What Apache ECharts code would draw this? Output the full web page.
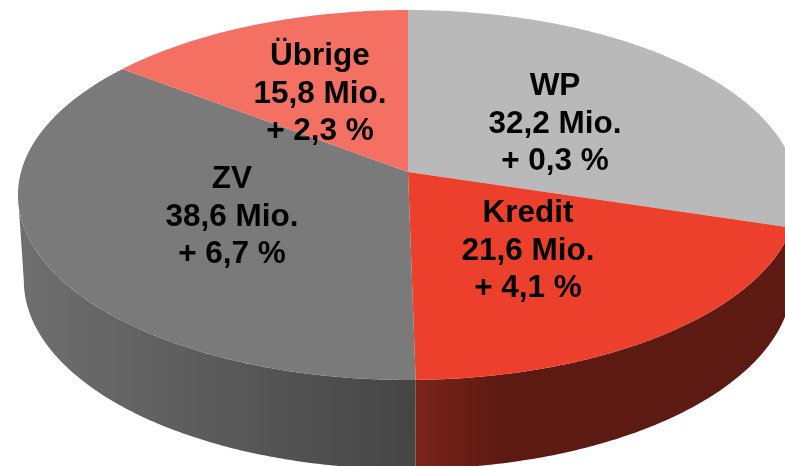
<!DOCTYPE html>
<html>
<head>
<meta charset="utf-8">
<style>html,body{margin:0;padding:0;background:#fff;overflow:hidden}#c{width:785px;height:466px}</style>
<script src="https://cdn.jsdelivr.net/npm/echarts@6/dist/echarts.min.js"></script>
</head>
<body>
<div id="c"></div>
<script>
// Chart values
const categories = ['WP', 'Kredit', 'ZV', 'Übrige'];
const amounts = [32.2, 21.6, 38.6, 15.8];
const changes = [0.3, 4.1, 6.7, 2.3];

// Styles
const topColors = ['#b9b9b9', '#ec402d', '#7a7a7a', '#f47062'];
const labelCenters = [[555, 124], [528, 251], [232, 217], [320, 94]];

const total = amounts.reduce((a, b) => a + b, 0);
const startShares = [];
amounts.reduce((acc, v, i) => { startShares[i] = acc / total; return acc + v; }, 0);

// Perspective projection of the round pie on screen
const CX = 408, CY = 172, K = -0.1243, A = 182.1, C = 387;
const DEPTH = 85, BOTTOM_SCALE_X = 0.985, BOTTOM_SCALE_Y = 1.02;
function project(theta, sx, sy, dy) {
  const u = Math.sin(theta), v = -Math.cos(theta), d = 1 + K * v;
  return [CX + sx * C * u / d, CY + dy + sy * A * v / d];
}
function arc(share0, share1, sx, sy, dy) {
  const pts = [], n = Math.max(2, Math.ceil((share1 - share0) * 720));
  for (let i = 0; i <= n; i++) {
    const s = share0 + (share1 - share0) * i / n;
    pts.push(project(s * 2 * Math.PI, sx, sy, dy));
  }
  return pts;
}
function span(i, api) {
  const s = startShares[i];
  return [s, s + api.value(0) / total];
}
// The front wall is visible only between the two widest points of the projected rim
const frontStart = Math.acos(K) / (2 * Math.PI), frontEnd = 1 - frontStart;
const grad = (x0, x1, stops) => new echarts.graphic.LinearGradient(x0, 0, x1, 0, stops, true);
const wallFills = [
  '#5c1a12',
  grad(415, 500, [{offset: 0, color: '#7c2419'}, {offset: 1, color: '#5c1a12'}]),
  grad(20, 415, [{offset: 0, color: '#6f6f6f'}, {offset: 1, color: '#454545'}]),
  '#7a3a33'
];

const seriesData = amounts.map((v, i) => ({name: categories[i], value: [v, changes[i]]}));
const fmt = v => v.toFixed(1).replace('.', ',');

const option = {
  animation: false,
  series: [
    {
      type: 'custom', coordinateSystem: 'none', silent: true, z: 1, clip: false,
      data: seriesData,
      renderItem(params, api) {
        const [a0, b0] = span(params.dataIndex, api);
        const a = Math.max(a0, frontStart), b = Math.min(b0, frontEnd);
        if (b <= a) return null;
        const top = arc(a, b, 1, 1, 0), bottom = arc(a, b, BOTTOM_SCALE_X, BOTTOM_SCALE_Y, DEPTH).reverse();
        return {type: 'polygon', shape: {points: top.concat(bottom)}, style: {fill: wallFills[params.dataIndex]}};
      }
    },
    {
      type: 'custom', coordinateSystem: 'none', silent: true, z: 2, clip: false,
      data: seriesData,
      renderItem(params, api) {
        const [a, b] = span(params.dataIndex, api);
        const pts = [[CX, CY]].concat(arc(a, b, 1, 1, 0));
        return {type: 'polygon', shape: {points: pts}, style: {fill: topColors[params.dataIndex]}};
      }
    },
    {
      type: 'custom', coordinateSystem: 'none', silent: true, z: 3, clip: false,
      data: seriesData,
      renderItem(params, api) {
        const i = params.dataIndex;
        return {
          type: 'text',
          style: {
            x: labelCenters[i][0], y: labelCenters[i][1],
            text: categories[i] + '\n' + fmt(api.value(0)) + ' Mio.\n+ ' + fmt(api.value(1)) + ' %',
            fill: '#000', align: 'center', verticalAlign: 'middle',
            font: 'bold 31.5px "Liberation Sans", Arial, sans-serif', lineHeight: 37.5
          }
        };
      }
    }
  ]
};
const chart = echarts.init(document.getElementById('c'), null, {renderer: 'canvas'});
chart.setOption(option);
</script>
</body>
</html>
